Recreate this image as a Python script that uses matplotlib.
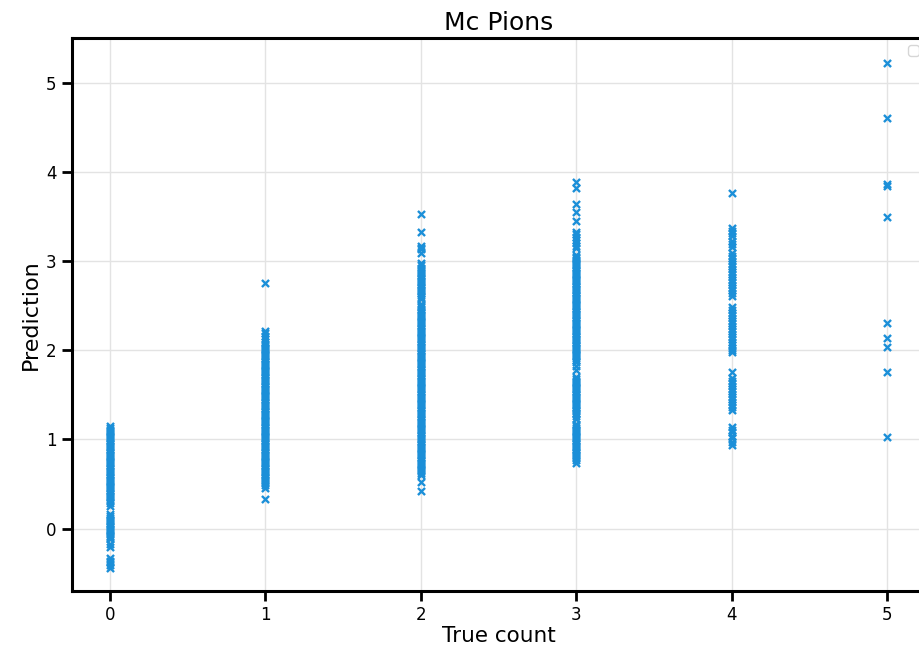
import matplotlib
matplotlib.use('Agg')
import matplotlib.pyplot as plt

# predictions grouped by true count
true_counts = [0, 1, 2, 3, 4, 5]

pred_0 = [1.15, 1.13, 1.11, 1.09, 1.07, 1.05, 1.03, 1.01, 0.99, 0.97, 0.95, 0.93,
          0.91, 0.89, 0.87, 0.85, 0.83, 0.81, 0.79, 0.77, 0.75, 0.73, 0.71, 0.69,
          0.67, 0.65, 0.63, 0.61, 0.59, 0.57, 0.55, 0.53, 0.51, 0.49, 0.47, 0.45,
          0.43, 0.41, 0.39, 0.37, 0.35, 0.33, 0.31, 0.29, 0.25,
          0.16, 0.14, 0.12, 0.10, 0.08, 0.06, 0.04, 0.02, 0.00, -0.02, -0.04,
          -0.06, -0.08, -0.10, -0.12, -0.17, -0.21,
          -0.33, -0.36, -0.38, -0.41, -0.44]
pred_1 = [2.75, 2.22, 2.19, 2.16, 2.13,
          2.09, 2.07, 2.05, 2.03, 2.01, 1.99, 1.97, 1.95, 1.93, 1.91, 1.89, 1.87,
          1.85, 1.83, 1.81, 1.79, 1.77, 1.75, 1.73, 1.71, 1.69, 1.67, 1.65, 1.63,
          1.61, 1.59, 1.57, 1.55, 1.53, 1.51, 1.49, 1.47, 1.45, 1.43, 1.41, 1.39,
          1.37, 1.35, 1.33, 1.31, 1.29, 1.27, 1.25, 1.23, 1.21, 1.19, 1.17, 1.15,
          1.13, 1.11, 1.09, 1.07, 1.05, 1.03, 1.01, 0.99, 0.97, 0.95, 0.93, 0.91,
          0.89, 0.87, 0.85, 0.83, 0.81, 0.79, 0.77, 0.75, 0.73, 0.71, 0.69, 0.67,
          0.65, 0.63, 0.61, 0.59, 0.57, 0.55, 0.53, 0.51, 0.49, 0.45, 0.33]
pred_2 = [3.53, 3.32, 3.17, 3.15, 3.13, 3.09, 2.98, 2.95,
          2.92, 2.90, 2.88, 2.86, 2.84, 2.82, 2.80, 2.78, 2.76, 2.74, 2.72, 2.70,
          2.68, 2.66, 2.64, 2.62, 2.60, 2.57, 2.52, 2.50, 2.48, 2.46, 2.44, 2.42,
          2.40, 2.38, 2.36, 2.34, 2.32, 2.30, 2.28, 2.26, 2.24, 2.22, 2.20, 2.18,
          2.16, 2.14, 2.12, 2.10, 2.08, 2.06, 2.04, 2.02, 2.00, 1.98, 1.96, 1.94,
          1.92, 1.90, 1.88, 1.86, 1.84, 1.82, 1.80, 1.78, 1.76, 1.74, 1.72, 1.70,
          1.68, 1.66, 1.64, 1.62, 1.60, 1.58, 1.56, 1.54, 1.52, 1.50, 1.48, 1.46,
          1.44, 1.42, 1.40, 1.38, 1.36, 1.34, 1.32, 1.30, 1.28, 1.26, 1.24, 1.22,
          1.20, 1.18, 1.16, 1.14, 1.12, 1.10, 1.08, 1.06, 1.04, 1.02, 1.00, 0.98,
          0.96, 0.94, 0.92, 0.90, 0.88, 0.86, 0.84, 0.82, 0.80, 0.78, 0.76, 0.74,
          0.72, 0.70, 0.68, 0.66, 0.64, 0.62, 0.60, 0.52, 0.42]
pred_3 = [3.88, 3.82, 3.64, 3.55, 3.45, 3.33, 3.30, 3.27, 3.24, 3.20, 3.17, 3.15,
          3.07, 3.05, 3.03, 3.01, 2.99, 2.97, 2.95, 2.93, 2.91, 2.89, 2.87, 2.85,
          2.83, 2.81, 2.79, 2.77, 2.75, 2.73, 2.71, 2.69, 2.67, 2.65, 2.63, 2.61,
          2.59, 2.57, 2.55, 2.53, 2.51, 2.49, 2.47, 2.45, 2.43, 2.41, 2.39, 2.37,
          2.35, 2.33, 2.31, 2.29, 2.27, 2.25, 2.23, 2.21, 2.19, 2.17, 2.15, 2.13,
          2.11, 2.09, 2.07, 2.05, 2.03, 2.01, 1.99, 1.97, 1.95, 1.93, 1.91, 1.89,
          1.87, 1.82, 1.78,
          1.70, 1.68, 1.66, 1.64, 1.62, 1.60, 1.58, 1.56, 1.54, 1.52, 1.50, 1.48,
          1.46, 1.44, 1.42, 1.40, 1.38, 1.36, 1.34, 1.32, 1.30, 1.28, 1.26, 1.23,
          1.17, 1.15, 1.13, 1.11, 1.09, 1.07, 1.05, 1.03, 1.01, 0.99, 0.97, 0.95,
          0.93, 0.91, 0.89, 0.87, 0.85, 0.83, 0.81, 0.79, 0.77, 0.73]
pred_4 = [3.76, 3.37, 3.34, 3.31, 3.28, 3.22, 3.19, 3.16,
          3.09, 3.06, 3.03, 3.00, 2.97, 2.94, 2.91, 2.88, 2.85, 2.82, 2.79, 2.76,
          2.73, 2.70, 2.67, 2.64, 2.61,
          2.48, 2.45, 2.42, 2.39, 2.36, 2.33, 2.30, 2.27, 2.24, 2.21, 2.18, 2.15,
          2.12, 2.09, 2.06, 2.03, 2.00, 1.98,
          1.76, 1.69, 1.66, 1.63, 1.60, 1.57, 1.54, 1.51, 1.48, 1.45, 1.42, 1.39,
          1.36, 1.33,
          1.14, 1.11, 1.08, 1.04, 1.01, 0.97, 0.94]
pred_5 = [5.22, 4.60, 3.86, 3.84, 3.49, 2.31, 2.14, 2.04, 1.75, 1.03]

predictions = [pred_0, pred_1, pred_2, pred_3, pred_4, pred_5]

fig = plt.figure(figsize=(9.2, 6.49), dpi=100)
ax = fig.add_axes([72 / 920, 58 / 649, 854 / 920, 553 / 649])

for count, preds in zip(true_counts, predictions):
    ax.scatter([count] * len(preds), preds, marker='x', s=26, linewidths=1.7,
               color='#1b8fd8', zorder=3)

ax.set_xlim(-0.245, 5.25)
ax.set_ylim(-0.7, 5.5)
ax.set_xticks(true_counts)
ax.set_yticks([0, 1, 2, 3, 4, 5])
ax.grid(True, color='#e3e3e3', linewidth=1.0, zorder=0)

for side in ['left', 'bottom', 'top', 'right']:
    ax.spines[side].set_linewidth(2.2)
ax.tick_params(axis='both', length=7, width=2.0, labelsize=12, pad=4)

ax.set_title('Mc Pions', fontsize=18)
ax.set_xlabel('True count', fontsize=15.5, labelpad=1)
ax.set_ylabel('Prediction', fontsize=16)
ax.legend(loc='upper right')

fig.savefig('out.png', dpi=100)
